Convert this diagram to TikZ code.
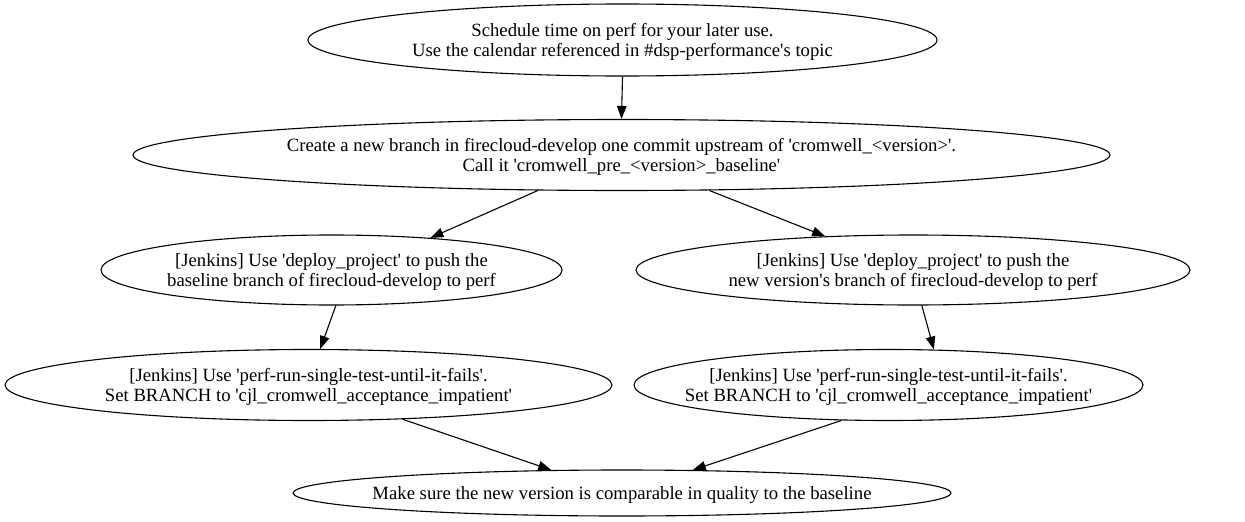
\documentclass[tikz,border=0pt]{standalone}
\usepackage{fontspec}
\setmainfont{Liberation Serif}[Ligatures=TeXOff]
\usetikzlibrary{arrows.meta,shapes.geometric}

\tikzset{
  stepnode/.style={ellipse, draw, line width=1.1pt, inner sep=0pt,
    label={[align=center, inner sep=0pt, yshift=-2pt, font=\fontsize{18.7}{20.5}\selectfont]center:#1}},
  flow/.style={line width=1.1pt, -{Triangle[length=13pt,width=9.5pt]}}
}

\begin{document}
\begin{tikzpicture}[x=1pt, y=-1pt]
  \useasboundingbox (0,0) rectangle (1245,522);

  % Nodes of the plan
  \node[stepnode={Schedule time on perf for your later use.\\Use the calendar referenced in \#dsp-performance's topic},
    minimum width=629pt, minimum height=72pt] (schedule) at (622.5,40) {};
  \node[stepnode={Create a new branch in firecloud-develop one commit upstream of 'cromwell\_<version>'.\\Call it 'cromwell\_pre\_<version>\_baseline'},
    minimum width=977pt, minimum height=71pt] (branch) at (621.5,155) {};
  \node[stepnode={[Jenkins] Use 'deploy\_project' to push the\\baseline branch of firecloud-develop to perf},
    minimum width=461pt, minimum height=70pt] (deployBase) at (331.5,270) {};
  \node[stepnode={[Jenkins] Use 'deploy\_project' to push the\\new version's branch of firecloud-develop to perf},
    minimum width=554pt, minimum height=70pt] (deployNew) at (913,270) {};
  \node[stepnode={[Jenkins] Use 'perf-run-single-test-until-it-fails'.\\Set BRANCH to 'cjl\_cromwell\_acceptance\_impatient'},
    minimum width=607pt, minimum height=71pt] (testBase) at (308.5,385) {};
  \node[stepnode={[Jenkins] Use 'perf-run-single-test-until-it-fails'.\\Set BRANCH to 'cjl\_cromwell\_acceptance\_impatient'},
    minimum width=509pt, minimum height=71pt] (testNew) at (888.5,385) {};
  \node[stepnode={Make sure the new version is comparable in quality to the baseline},
    minimum width=658pt, minimum height=46pt] (compare) at (622,493) {};

  % Draw the edges
  \draw[flow] (schedule.south) -- (branch.north);
  \draw[flow] (branch.203) -- (deployBase.18);
  \draw[flow] (branch.-22) -- (deployNew.159);
  \draw[flow] (deployBase.-83) -- (testBase.72);
  \draw[flow] (deployNew.-76) -- (testNew.38);
  \draw[flow] (testBase.-20) -- (compare.162);
  \draw[flow] (testNew.217) -- (compare.18);
\end{tikzpicture}
\end{document}
